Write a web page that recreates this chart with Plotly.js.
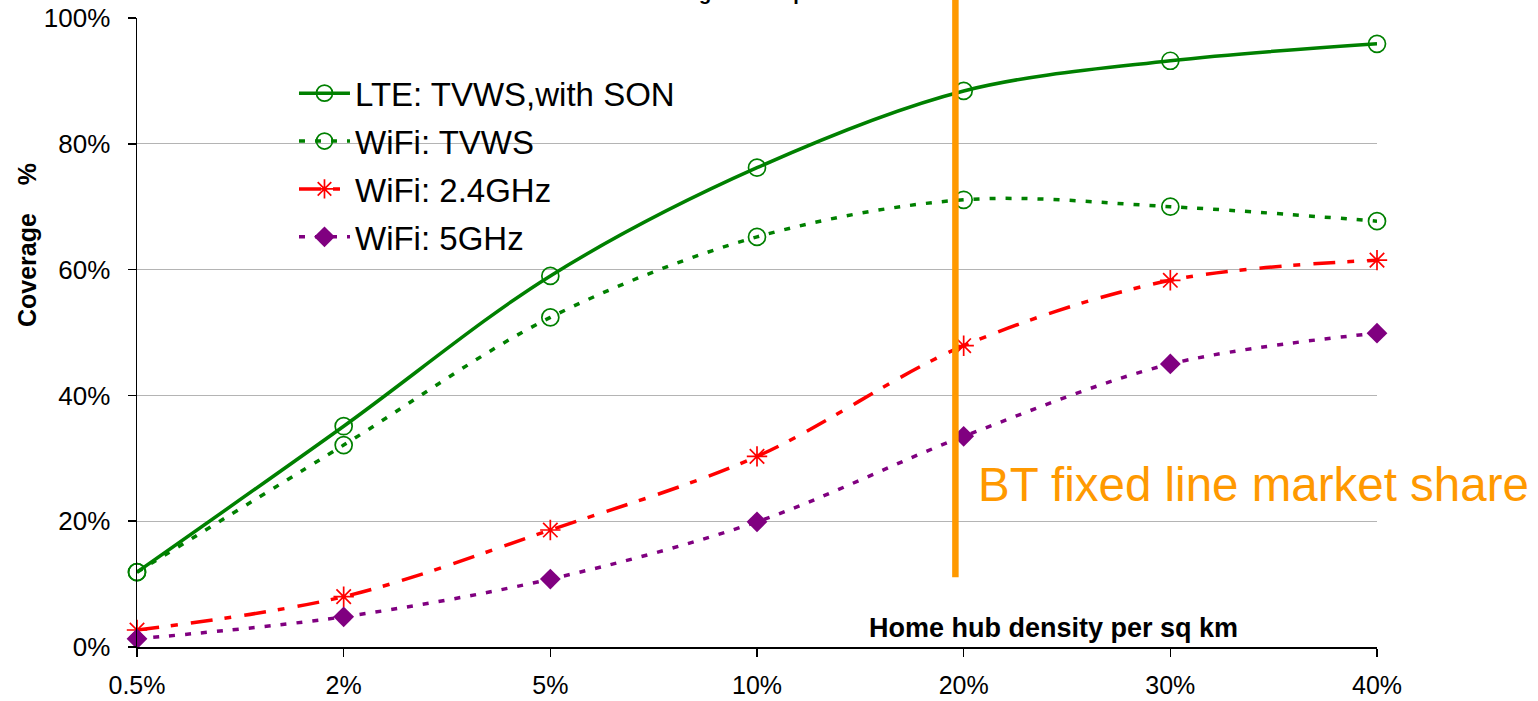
<!DOCTYPE html>
<html>
<head>
<meta charset="utf-8">
<script src="https://cdn.plot.ly/plotly-3.0.1.min.js"></script>
<style>
  html, body { margin: 0; padding: 0; background: #ffffff; }
  #chart { width: 1538px; height: 701px; }
</style>
</head>
<body>
<div id="chart"></div>
<script>
// Home hub density categories (x axis)
const densityLabels = ['0.5%', '2%', '5%', '10%', '20%', '30%', '40%'];

// Coverage (%) per series
const lteTvwsSon = [11.9, 35.1, 59.0, 76.2, 88.4, 93.2, 95.9];
const wifiTvws   = [11.9, 32.1, 52.4, 65.2, 71.1, 70.0, 67.7];
const wifi24GHz  = [2.7, 8.0, 18.6, 30.3, 47.9, 58.3, 61.5];
const wifi5GHz   = [1.3, 4.8, 10.8, 19.9, 33.5, 45.0, 49.9];

// Series names
const seriesNames = ['LTE: TVWS,with SON', 'WiFi: TVWS', 'WiFi: 2.4GHz', 'WiFi: 5GHz'];

// Y axis ticks
const yTicks = [0, 20, 40, 60, 80, 100];
const yTickLabels = yTicks.map(v => v + '%');

// BT fixed line market share marker (position on the category scale, lower end in %)
const btShareIndex = 3.96;
const btShareLineBottom = 11.1;

const xIdx = densityLabels.map((_, i) => i);
const font = 'Liberation Sans, Arial, sans-serif';

const GREEN = '#008000', RED = '#ff0000', PURPLE = '#800080', ORANGE = '#ff9900';

function series(name, y, color, dash, symbol, size, group) {
  const open = symbol.endsWith('-open');
  return {
    type: 'scatter', mode: 'lines+markers', name: name, legendgroup: group,
    x: xIdx, y: y, cliponaxis: false,
    line: { color: color, width: 3.5, dash: dash, shape: 'spline', smoothing: 0.95 },
    marker: {
      symbol: symbol, size: size, color: color,
      line: { color: color, width: open ? 1.7 : 0 }
    }
  };
}

const traces = [
  series(seriesNames[0], lteTvwsSon, GREEN, 'solid', 'circle-open', 17, 'g1'),
  series(seriesNames[1], wifiTvws, GREEN, '6px,10px', 'circle-open', 17, 'g2'),
  series(seriesNames[2], wifi24GHz, RED, '22px,12px,7px,13px', 'asterisk-open', 17, 'g3'),
  series(seriesNames[3], wifi5GHz, PURPLE, '6px,10px', 'diamond', 16, 'g4')
];

const nCat = densityLabels.length - 1;

const layout = {
  width: 1538, height: 701,
  margin: { l: 137, r: 161, t: 18, b: 54, pad: 0 },
  paper_bgcolor: '#ffffff', plot_bgcolor: '#ffffff',
  font: { family: font, color: '#000000', size: 26 },
  showlegend: true,
  legend: {
    x: 0.1266, xanchor: 'left', y: 0.925, yanchor: 'top',
    bgcolor: 'rgba(0,0,0,0)', borderwidth: 0,
    font: { family: font, size: 33, color: '#000000' },
    itemwidth: 51, tracegroupgap: 2, traceorder: 'grouped'
  },
  xaxis: {
    range: [0, nCat], tickmode: 'array', tickvals: xIdx, ticktext: densityLabels,
    showline: true, linecolor: '#000000', linewidth: 1.5,
    ticks: 'outside', ticklen: 8, tickwidth: 1.5, tickcolor: '#000000',
    ticklabelstandoff: 7,
    showgrid: false, zeroline: false,
    tickfont: { family: font, size: 25, color: '#000000' }
  },
  yaxis: {
    range: [0, 100], tickmode: 'array', tickvals: yTicks, ticktext: yTickLabels,
    showline: true, linecolor: '#000000', linewidth: 1.5,
    ticks: 'outside', ticklen: 8, tickwidth: 1.5, tickcolor: '#000000',
    ticklabelstandoff: 12,
    showgrid: true, gridcolor: '#b4b4b4', gridwidth: 1, zeroline: false,
    tickfont: { family: font, size: 26, color: '#000000' }
  },
  shapes: [{
    type: 'line', xref: 'paper', yref: 'paper',
    x0: btShareIndex / nCat, x1: btShareIndex / nCat,
    y0: btShareLineBottom / 100, y1: 1.06,
    line: { color: ORANGE, width: 6.5 }, layer: 'above'
  }],
  annotations: [
    {
      text: 'Outdoor coverage at hub penetration', showarrow: false,
      xref: 'paper', yref: 'paper', x: 0.3315, xanchor: 'left', y: 1.019, yanchor: 'bottom',
      font: { family: font, size: 20, weight: 'bold', color: '#000000' }
    },
    {
      text: 'BT fixed line market share', showarrow: false,
      xref: 'paper', yref: 'paper', x: 0.677, xanchor: 'left', y: 0.259, yanchor: 'middle',
      font: { family: font, size: 47.5, color: ORANGE }
    },
    {
      text: 'Home hub density per sq km', showarrow: false,
      xref: 'paper', yref: 'paper', x: 0.7395, xanchor: 'center', y: 0.030, yanchor: 'middle',
      font: { family: font, size: 27, weight: 'bold', color: '#000000' }
    },
    {
      text: 'Coverage\u00a0\u00a0\u00a0\u00a0%', showarrow: false, textangle: -90,
      xref: 'paper', yref: 'paper', x: -0.0887, xanchor: 'center', y: 0.639, yanchor: 'middle',
      font: { family: font, size: 25, weight: 'bold', color: '#000000' }
    }
  ]
};

Plotly.newPlot('chart', traces, layout, { displayModeBar: false, staticPlot: true });
</script>
</body>
</html>
